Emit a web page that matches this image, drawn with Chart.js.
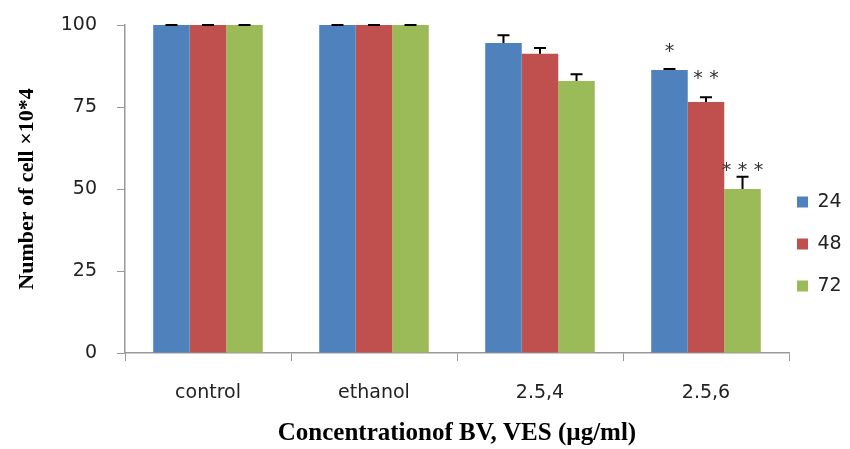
<!DOCTYPE html>
<html>
<head>
<meta charset="utf-8">
<script src="https://cdn.jsdelivr.net/npm/chart.js@4"></script>
<style>
  html, body { margin: 0; padding: 0; background: #fff; }
  #wrap { width: 850px; height: 449px; }
</style>
</head>
<body>
<div id="wrap"><canvas id="chart" width="850" height="449"></canvas></div>
<script>
// Chart data
const categories = ["control", "ethanol", "2.5,4", "2.5,6"];
const seriesNames = ["24", "48", "72"];
const values24 = [100, 100, 94.5, 86.3];
const values48 = [100, 100, 91.2, 76.5];
const values72 = [100, 100, 82.9, 50.0];
const errors24 = [0, 0, 2.4, 0.3];
const errors48 = [0, 0, 1.8, 1.5];
const errors72 = [0, 0, 2.1, 3.7];
// significance marks and the value level they sit at
const stars = [["", "", "", "*"], ["", "", "", "**"], ["", "", "", "***"]];
const starLevels = [[0, 0, 0, 92.2], [0, 0, 0, 83.8], [0, 0, 0, 55.8]];
const yTicks = [0, 25, 50, 75, 100];

const colors = ["#4F81BD", "#C0504D", "#9BBB59"];
const allValues = [values24, values48, values72];
const allErrors = [errors24, errors48, errors72];

// Error bars + significance stars
const errorBarPlugin = {
  id: "errorBars",
  afterDatasetsDraw(chart) {
    const ctx = chart.ctx;
    const y = chart.scales.y;
    chart.data.datasets.forEach((ds, i) => {
      const meta = chart.getDatasetMeta(i);
      meta.data.forEach((bar, j) => {
        const v = allValues[i][j];
        const e = allErrors[i][j];
        const top = y.getPixelForValue(v + e);
        const base = y.getPixelForValue(v);
        ctx.save();
        ctx.strokeStyle = "#000";
        ctx.lineWidth = 2;
        ctx.beginPath();
        ctx.moveTo(bar.x, base);
        ctx.lineTo(bar.x, top);
        ctx.moveTo(bar.x - 6, top);
        ctx.lineTo(bar.x + 6, top);
        ctx.stroke();
        const s = stars[i][j];
        if (s) {
          ctx.fillStyle = "#333";
          ctx.font = "19px 'DejaVu Sans'";
          ctx.textAlign = "center";
          ctx.textBaseline = "middle";
          const sy = y.getPixelForValue(starLevels[i][j]) + 1;
          const n = s.length;
          for (let k = 0; k < n; k++) {
            ctx.fillText("*", bar.x + (k - (n - 1) / 2) * 16, sy);
          }
        }
        ctx.restore();
      });
    });
  }
};

// nudge the legend a little to the left, the way the original sits
const legendShift = {
  id: "legendShift",
  afterLayout(chart) {
    chart.legend.left -= 15;
  }
};

new Chart(document.getElementById("chart"), {
  type: "bar",
  data: {
    labels: categories,
    datasets: seriesNames.map((n, i) => ({
      label: n,
      data: allValues[i],
      backgroundColor: colors[i],
      borderWidth: 0,
      categoryPercentage: 0.66,
      barPercentage: 1.0
    }))
  },
  options: {
    responsive: false,
    animation: false,
    layout: { padding: { top: 25, right: 0, bottom: 0, left: 0 } },
    plugins: {
      legend: {
        position: "right",
        maxWidth: 61,
        // empty title just pushes the items down a bit
        title: { display: true, text: " ", padding: { top: 0, bottom: 2 }, font: { size: 10 } },
        labels: {
          boxWidth: 11,
          boxHeight: 11,
          padding: 23,
          color: "#222",
          font: { family: "DejaVu Sans", size: 19 }
        }
      },
      tooltip: { enabled: false }
    },
    scales: {
      x: {
        grid: {
          display: true,
          drawOnChartArea: false,
          offset: true,
          tickLength: 8,
          color: "#999",
          lineWidth: 1
        },
        border: { color: "#999", width: 1.5 },
        ticks: {
          padding: 21,
          color: "#222",
          font: { family: "DejaVu Sans", size: 19 }
        },
        title: {
          display: true,
          text: "Concentrationof BV, VES (µg/ml)",
          color: "#000",
          font: { family: "Liberation Serif", size: 25, weight: "bold" },
          padding: { top: 10, bottom: 0 }
        },
        afterFit(scale) { scale.height = 96; }
      },
      y: {
        min: 0,
        max: 100,
        afterBuildTicks(scale) { scale.ticks = yTicks.map(v => ({ value: v })); },
        grid: {
          display: true,
          drawOnChartArea: false,
          tickLength: 8,
          color: "#999"
        },
        border: { color: "#999", width: 1.5 },
        ticks: {
          padding: 20,
          color: "#222",
          font: { family: "DejaVu Sans", size: 19 }
        },
        title: {
          display: true,
          text: "Number of cell ×10*4",
          color: "#000",
          font: { family: "Liberation Serif", size: 22, weight: "bold" },
          padding: { top: 14, bottom: 0 }
        },
        afterFit(scale) {
          scale.width = 125;
          scale.paddingTop = 0;
          scale.paddingBottom = 0;
        }
      }
    }
  },
  plugins: [errorBarPlugin, legendShift]
});
</script>
</body>
</html>
